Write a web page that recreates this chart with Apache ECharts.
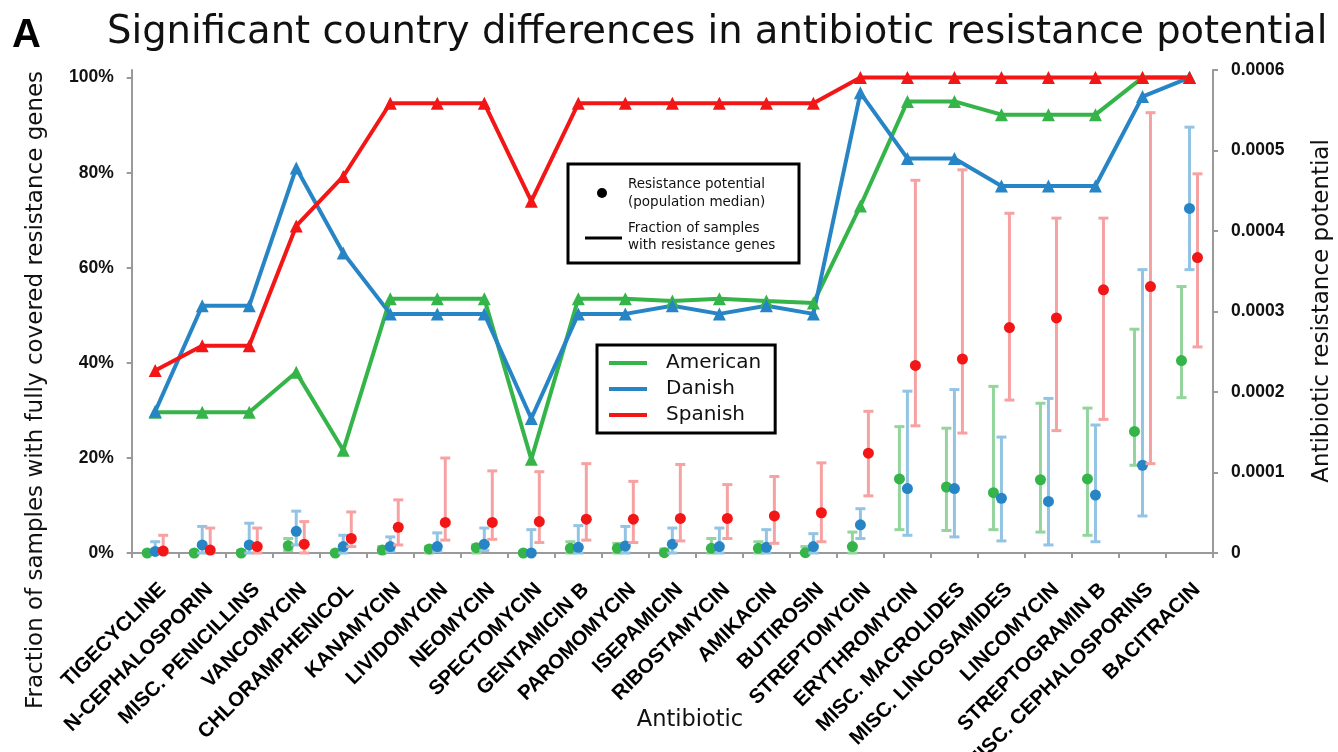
<!DOCTYPE html>
<html>
<head>
<meta charset="utf-8">
<script src="https://cdn.jsdelivr.net/npm/echarts@6/dist/echarts.min.js"></script>
<style>
  html, body { margin: 0; padding: 0; background: #fff; }
  #chart { width: 1338px; height: 752px; }
</style>
</head>
<body>
<div id="chart"></div>
<script>
// Antibiotic classes along the x axis
const categories = [
  'TIGECYCLINE', 'N-CEPHALOSPORIN', 'MISC. PENICILLINS', 'VANCOMYCIN', 'CHLORAMPHENICOL',
  'KANAMYCIN', 'LIVIDOMYCIN', 'NEOMYCIN', 'SPECTOMYCIN', 'GENTAMICIN B', 'PAROMOMYCIN',
  'ISEPAMICIN', 'RIBOSTAMYCIN', 'AMIKACIN', 'BUTIROSIN', 'STREPTOMYCIN', 'ERYTHROMYCIN',
  'MISC. MACROLIDES', 'MISC. LINCOSAMIDES', 'LINCOMYCIN', 'STREPTOGRAMIN B',
  'MISC. CEPHALOSPORINS', 'BACITRACIN'
];

// Fraction of samples with fully covered resistance genes (left axis)
const fracAmerican = [0.296, 0.296, 0.296, 0.38, 0.216, 0.535, 0.535, 0.535, 0.197, 0.535, 0.535,
  0.53, 0.535, 0.53, 0.526, 0.73, 0.95, 0.95, 0.922, 0.922, 0.922, 1.0, 1.0];
const fracDanish = [0.298, 0.52, 0.52, 0.81, 0.631, 0.503, 0.503, 0.503, 0.283, 0.503, 0.503,
  0.52, 0.503, 0.52, 0.503, 0.968, 0.83, 0.83, 0.772, 0.772, 0.772, 0.96, 1.0];
const fracSpanish = [0.384, 0.436, 0.436, 0.688, 0.792, 0.946, 0.946, 0.946, 0.74, 0.946, 0.946,
  0.946, 0.946, 0.946, 0.946, 1.0, 1.0, 1.0, 1.0, 1.0, 1.0, 1.0, 1.0];

// Resistance potential: population median with lower / upper bounds (right axis)
const medAmerican = [0, 0, 0, 0.000009, 0, 0.0000037, 0.000005, 0.0000066, 0, 0.0000058, 0.0000058,
  0.0000004, 0.0000058, 0.0000058, 0.0000004, 0.000008, 0.000092, 0.000082, 0.000075, 0.000091,
  0.000092, 0.000151, 0.000239];
const loAmerican = [0, 0, 0, 0.000003, 0, 0, 0, 0, 0, 0, 0,
  0, 0, 0, 0, 0, 0.000029, 0.000028, 0.000029, 0.000026, 0.000022, 0.000109, 0.000193];
const hiAmerican = [0.000002, 0.000002, 0.000003, 0.000018, 0.000002, 0.000008, 0.000008, 0.00001,
  0.000002, 0.000014, 0.000012, 0.000005, 0.000018, 0.000014, 0.000008, 0.000026, 0.000157,
  0.000155, 0.000207, 0.000186, 0.00018, 0.000278, 0.000331];

const medDanish = [0.000002, 0.00001, 0.00001, 0.000027, 0.000008, 0.000008, 0.000008, 0.000011, 0,
  0.000007, 0.0000087, 0.000011, 0.000008, 0.000007, 0.000008, 0.000035, 0.00008, 0.00008, 0.000068,
  0.000064, 0.000072, 0.000109, 0.000428];
const loDanish = [0, 0, 0, 0.00001, 0, 0.000002, 0.000002, 0.000003, 0, 0, 0,
  0, 0, 0, 0, 0.000018, 0.000022, 0.00002, 0.000015, 0.00001, 0.000014, 0.000046, 0.000352];
const hiDanish = [0.000014, 0.000033, 0.000037, 0.000052, 0.000022, 0.00002, 0.000025, 0.000031,
  0.000029, 0.000034, 0.000033, 0.000031, 0.000031, 0.000029, 0.000024, 0.000055, 0.000201,
  0.000203, 0.000144, 0.000192, 0.000159, 0.000352, 0.000529];

const medSpanish = [0.0000025, 0.0000037, 0.000008, 0.000011, 0.000018, 0.000032, 0.000038, 0.000038,
  0.000039, 0.000042, 0.000042, 0.000043, 0.000043, 0.000046, 0.00005, 0.000124, 0.000233, 0.000241,
  0.00028, 0.000292, 0.000327, 0.000331, 0.000367];
const loSpanish = [0, 0, 0, 0, 0.000008, 0.00001, 0.000016, 0.000017, 0.000013, 0.000016, 0.000013,
  0.000015, 0.000018, 0.000012, 0.000014, 0.000071, 0.000158, 0.000149, 0.00019, 0.000152, 0.000166,
  0.000111, 0.000256];
const hiSpanish = [0.000022, 0.000031, 0.000031, 0.000039, 0.000051, 0.000066, 0.000118, 0.000102,
  0.000101, 0.000111, 0.000089, 0.00011, 0.000085, 0.000095, 0.000112, 0.000176, 0.000463, 0.000476,
  0.000422, 0.000416, 0.000416, 0.000547, 0.000471];

// Left and right tick values
const leftTicks = [0, 0.2, 0.4, 0.6, 0.8, 1.0];
const rightTicks = [0, 0.0001, 0.0002, 0.0003, 0.0004, 0.0005, 0.0006];

const COL = {
  American: { line: '#35b449', light: '#93d59c' },
  Danish: { line: '#2785c6', light: '#93c4e4' },
  Spanish: { line: '#f31616', light: '#f7a2a2' }
};

function rows(med, lo, hi) {
  return med.map((m, i) => [i, m, lo[i], hi[i]]);
}

// Median dot with light error bar, shifted sideways within its category slot
function medianSeries(name, med, lo, hi, offset) {
  const c = COL[name];
  return {
    name: name + ' median',
    type: 'custom',
    xAxisIndex: 0,
    yAxisIndex: 1,
    z: 3,
    data: rows(med, lo, hi),
    renderItem: function (params, api) {
      const i = api.value(0);
      const pm = api.coord([i, api.value(1)]);
      const pl = api.coord([i, api.value(2)]);
      const ph = api.coord([i, api.value(3)]);
      const x = pm[0] + offset;
      const cap = 5;
      const bar = { stroke: c.light, lineWidth: 3 };
      return {
        type: 'group',
        children: [
          { type: 'line', shape: { x1: x, y1: pl[1], x2: x, y2: ph[1] }, style: bar },
          { type: 'line', shape: { x1: x - cap, y1: ph[1], x2: x + cap, y2: ph[1] }, style: bar },
          { type: 'line', shape: { x1: x - cap, y1: pl[1], x2: x + cap, y2: pl[1] }, style: bar },
          { type: 'circle', shape: { cx: x, cy: pm[1], r: 5.5 }, style: { fill: c.line } }
        ]
      };
    }
  };
}

function fracSeries(name, data) {
  return {
    name: name,
    type: 'line',
    yAxisIndex: 0,
    data: data,
    z: 5,
    symbol: 'triangle',
    symbolSize: 13,
    color: COL[name].line,
    lineStyle: { width: 4, color: COL[name].line },
    itemStyle: { color: COL[name].line },
    animation: false
  };
}

const tickLabel = { fontFamily: 'Liberation Sans', fontWeight: 'bold', fontSize: 17.5, color: '#111' };
const axisGray = '#9a9a9a';

const chart = echarts.init(document.getElementById('chart'), null, { renderer: 'canvas' });
chart.setOption({
  animation: false,
  backgroundColor: '#fff',
  grid: { left: 131.7, right: 125, top: 70, bottom: 199, containLabel: false, outerBoundsMode: 'none' },
  xAxis: {
    type: 'category',
    data: categories,
    boundaryGap: true,
    axisLine: { lineStyle: { color: axisGray, width: 2 } },
    axisTick: { show: true, length: 5, lineStyle: { color: axisGray, width: 2 } },
    axisLabel: { interval: 0, rotate: 45, margin: 26, fontSize: 20.5, color: '#000',
      align: 'right', verticalAlign: 'top',
      fontFamily: 'Liberation Sans', fontWeight: 'bold' },
    splitLine: { show: false }
  },
  yAxis: [
    {
      type: 'value',
      min: 0,
      max: 1.016,
      position: 'left',
      axisLine: { show: true, lineStyle: { color: axisGray, width: 2 } },
      axisTick: { show: true, length: 5, customValues: leftTicks, lineStyle: { color: axisGray, width: 2 } },
      axisLabel: Object.assign({ customValues: leftTicks, margin: 18,
        formatter: v => Math.round(v * 100) + '%' }, tickLabel),
      splitLine: { show: false }
    },
    {
      type: 'value',
      min: 0,
      max: 0.0006,
      position: 'right',
      axisLine: { show: true, lineStyle: { color: axisGray, width: 2 } },
      axisTick: { show: true, length: 5, customValues: rightTicks, lineStyle: { color: axisGray, width: 2 } },
      axisLabel: Object.assign({ customValues: rightTicks, margin: 18,
        formatter: v => v === 0 ? '0' : v.toFixed(4) }, tickLabel),
      splitLine: { show: false }
    }
  ],
  legend: {
    data: ['American', 'Danish', 'Spanish'],
    orient: 'vertical',
    left: 597,
    top: 345,
    icon: 'rect',
    itemWidth: 38,
    itemHeight: 4,
    itemGap: 2,
    padding: [6, 14, 6, 12],
    borderColor: '#000',
    borderWidth: 3,
    backgroundColor: '#fff',
    selectedMode: false,
    textStyle: { fontFamily: 'DejaVu Sans', fontSize: 20, color: '#111', lineHeight: 24, padding: [0, 0, 0, 14] }
  },
  series: [
    medianSeries('American', medAmerican, loAmerican, hiAmerican, -8),
    medianSeries('Danish', medDanish, loDanish, hiDanish, 0),
    medianSeries('Spanish', medSpanish, loSpanish, hiSpanish, 8),
    fracSeries('American', fracAmerican),
    fracSeries('Danish', fracDanish),
    fracSeries('Spanish', fracSpanish)
  ],
  graphic: [
    { type: 'text', left: 12, top: 16, style: { text: 'A', font: 'bold 40px "Liberation Sans"', fill: '#000' } },
    { type: 'text', left: 107, top: 13, style: { text: 'Significant country differences in antibiotic resistance potential',
      font: '38.5px "DejaVu Sans"', fill: '#111' } },
    // axis titles
    { type: 'text', x: 36, y: 390, rotation: Math.PI / 2,
      style: { text: 'Fraction of samples with fully covered resistance genes', font: '23px "DejaVu Sans"',
        fill: '#111', align: 'center', verticalAlign: 'middle' } },
    { type: 'text', x: 1322, y: 311, rotation: Math.PI / 2,
      style: { text: 'Antibiotic resistance potential', font: '23px "DejaVu Sans"',
        fill: '#111', align: 'center', verticalAlign: 'middle' } },
    { type: 'text', x: 690, y: 720,
      style: { text: 'Antibiotic', font: '22.5px "DejaVu Sans"', fill: '#111', align: 'center', verticalAlign: 'middle' } },
    // key for the two mark types
    { type: 'rect', shape: { x: 568, y: 164, width: 231, height: 99 },
      style: { fill: '#fff', stroke: '#000', lineWidth: 3 }, z: 10 },
    { type: 'circle', shape: { cx: 602, cy: 193, r: 5 }, style: { fill: '#000' }, z: 11 },
    { type: 'line', shape: { x1: 585, y1: 238, x2: 622, y2: 238 }, style: { stroke: '#000', lineWidth: 3 }, z: 11 },
    { type: 'text', x: 628, y: 184, z: 11, style: { text: 'Resistance potential', font: '13.5px "DejaVu Sans"', fill: '#111', verticalAlign: 'middle' } },
    { type: 'text', x: 628, y: 202, z: 11, style: { text: '(population median)', font: '13.5px "DejaVu Sans"', fill: '#111', verticalAlign: 'middle' } },
    { type: 'text', x: 628, y: 228, z: 11, style: { text: 'Fraction of samples', font: '13.5px "DejaVu Sans"', fill: '#111', verticalAlign: 'middle' } },
    { type: 'text', x: 628, y: 245, z: 11, style: { text: 'with resistance genes', font: '13.5px "DejaVu Sans"', fill: '#111', verticalAlign: 'middle' } }
  ]
});
</script>
</body>
</html>
